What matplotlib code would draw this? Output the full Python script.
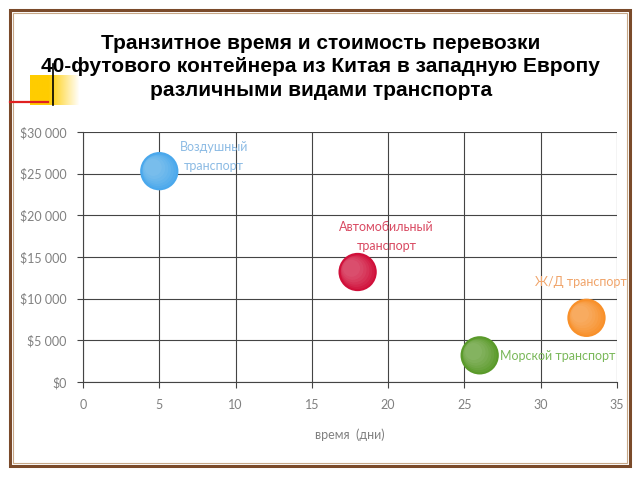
import matplotlib.pyplot as plt
from matplotlib.patches import Rectangle
from matplotlib.lines import Line2D
import numpy as np

# данные с картинки
modes = ['Воздушный\nтранспорт', 'Автомобильный\nтранспорт', 'Морской транспорт', 'Ж/Д транспорт']
days = [5, 18, 26, 33]
cost = [25300, 13200, 3200, 7700]
colors = ['#4aa8ec', '#d0103a', '#5a9a2a', '#f8902a']
label_colors = ['#8cbbe4', '#d94a62', '#7ab85a', '#f0a46a']
label_pos = [(8.6, 27000), (19.9, 17400), (27.3, 3100), (32.6, 12000)]
label_ha = ['center', 'center', 'left', 'center']

x_ticks = [0, 5, 10, 15, 20, 25, 30, 35]
y_ticks = [0, 5000, 10000, 15000, 20000, 25000, 30000]
y_labels = ['$0', '$5 000', '$10 000', '$15 000', '$20 000', '$25 000', '$30 000']

title = 'Транзитное время и стоимость перевозки\n40-футового контейнера из Китая в западную Европу\nразличными видами транспорта'

fig = plt.figure(figsize=(6.4, 4.8), dpi=100)

# рамка слайда
fig.patches.append(Rectangle((10/640, 1-466/480), 620/640, 456/480, transform=fig.transFigure,
                             fill=False, edgecolor='#7a4a2a', linewidth=2.2))
fig.patches.append(Rectangle((13/640, 1-463/480), 614/640, 450/480, transform=fig.transFigure,
                             fill=False, edgecolor='#c8a888', linewidth=0.8))

# декор слева сверху: жёлтый квадрат с градиентом
grad = np.linspace(1, 0, 60).reshape(1, -1)
deco = fig.add_axes([30/640, 1-105/480, 50/640, 30/480])
deco.imshow(np.dstack([np.full_like(grad, 1.0), np.full_like(grad, 0.80), np.zeros_like(grad),
                       np.clip(grad * 1.6, 0, 1)]), aspect='auto')
deco.axis('off')
fig.add_artist(Line2D([10/640, 48/640], [1-102/480, 1-102/480], color='#e02020', linewidth=1.6))
fig.add_artist(Line2D([53/640, 53/640], [1-64/480, 1-105/480], color='black', linewidth=1.2))

fig.text(0.501, 1-67/480, title, ha='center', va='center', fontsize=15, fontweight='bold',
         family='Liberation Sans', linespacing=1.32)

ax = fig.add_axes([83/640, 1-382/480, 534/640, 250/480])
ax.set_xlim(0, 35)
ax.set_ylim(0, 30000)
ax.set_xticks(x_ticks)
ax.set_yticks(y_ticks)
ax.set_yticklabels(y_labels)
ax.grid(True, color='#444444', linewidth=0.8)
ax.set_axisbelow(True)
for s in ['top', 'right']:
    ax.spines[s].set_visible(False)
for s in ['left', 'bottom']:
    ax.spines[s].set_color('#444444')
ax.tick_params(colors='#444444', labelcolor='#808080', labelsize=9, length=4, pad=8)
for lab in ax.get_xticklabels() + ax.get_yticklabels():
    lab.set_family('Lato')
ax.set_xlabel('время  (дни)', fontsize=9, color='#808080', family='Lato', labelpad=13)

# пузыри с мягким бликом (несколько полупрозрачных слоёв)
ax.scatter(days, cost, s=760, c=colors, edgecolors='none', zorder=3)
for k in range(6):
    ax.scatter(np.array(days) - 0.08 * k, np.array(cost) + 90 * k, s=600 - 90 * k,
               c='white', alpha=0.05, edgecolors='none', zorder=4)

for name, (lx, ly), col, ha in zip(modes, label_pos, label_colors, label_ha):
    ax.text(lx, ly, name, color=col, fontsize=9, family='Lato', ha=ha, va='center',
            linespacing=1.7)

fig.savefig('out.png', dpi=100)
